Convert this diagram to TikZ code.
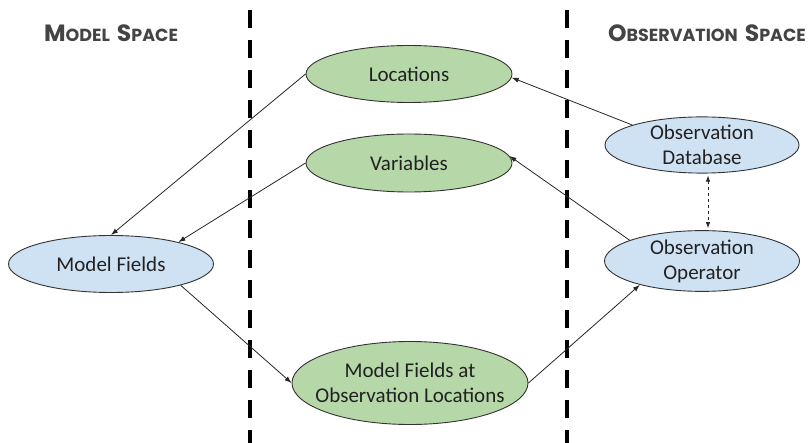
\documentclass[tikz,border=0pt]{standalone}
\usepackage{fontspec}
\setmainfont{Carlito}
\newfontfamily\titlefont{Poppins}
\usetikzlibrary{shapes.geometric,arrows.meta}
\definecolor{gfill}{HTML}{B6D7A8}
\definecolor{bfill}{HTML}{CFE2F3}
\definecolor{edge}{HTML}{333333}
\definecolor{titlegray}{HTML}{444444}
\tikzset{
  oval/.style={ellipse,draw=edge,line width=0.9pt,inner sep=0pt,align=center,
    text=black!87,font=\fontsize{21}{25}\selectfont},
  greenoval/.style={oval,fill=gfill},
  blueoval/.style={oval,fill=bfill},
  conn/.style={draw=black!85,line width=0.8pt,-{Latex[length=7pt,width=5pt]}},
  divider/.style={line width=4pt,dash pattern=on 18pt off 12pt,black},
  titletext/.style={text=titlegray,font=\titlefont\bfseries}
}
\newcommand{\bigc}[1]{{\fontsize{23.5}{26}\selectfont #1}}
\newcommand{\smc}[1]{{\fontsize{17.5}{26}\selectfont #1}}
\begin{document}
\begin{tikzpicture}[x=1pt,y=-1pt]
\useasboundingbox (0,0) rectangle (810,443);
\draw[divider] (250,10) -- (250,443);
\draw[divider] (567,10) -- (567,443);
\node[titletext] (ms) at (111,33) {\bigc{M}\smc{ODEL}\hspace{7pt}\bigc{S}\smc{PACE}};
\node[titletext] (os) at (707,33) {\bigc{O}\smc{BSERVATION}\hspace{7pt}\bigc{S}\smc{PACE}};
\node[greenoval,minimum width=206pt,minimum height=57pt] (loc) at (409,74) {Locations};
\node[greenoval,minimum width=206pt,minimum height=58pt] (var) at (409,163) {Variables};
\node[blueoval,minimum width=205pt,minimum height=57pt] (mf) at (111,264) {Model Fields};
\node[greenoval,inner xsep=-30pt,minimum width=236pt,minimum height=83pt] (mfo) at (410,383) {Model Fields at\\Observation Locations};
\node[blueoval,inner xsep=-10pt,minimum width=194pt,minimum height=53pt] (db) at (702,145) {Observation\\Database};
\node[blueoval,inner xsep=-10pt,minimum width=195pt,minimum height=53pt] (op) at (702,261) {Observation\\Operator};
\draw[conn] (loc.west) -- (mf.north);
\draw[conn] (var.west) -- (mf.18);
\draw[conn] (mf.-17) -- (mfo.west);
\draw[conn] (mfo.east) -- (op.-159);
\draw[conn] (op.164) -- (var.4);
\draw[conn] (db.164) -- (loc.-2);
\draw[draw=black!85,line width=0.8pt,dashed,{Latex[length=6pt,width=4.5pt]}-{Latex[length=6pt,width=4.5pt]},shorten <=2pt,shorten >=2pt]
  ([xshift=6pt]db.south) -- ([xshift=6pt]op.north);
\end{tikzpicture}
\end{document}
